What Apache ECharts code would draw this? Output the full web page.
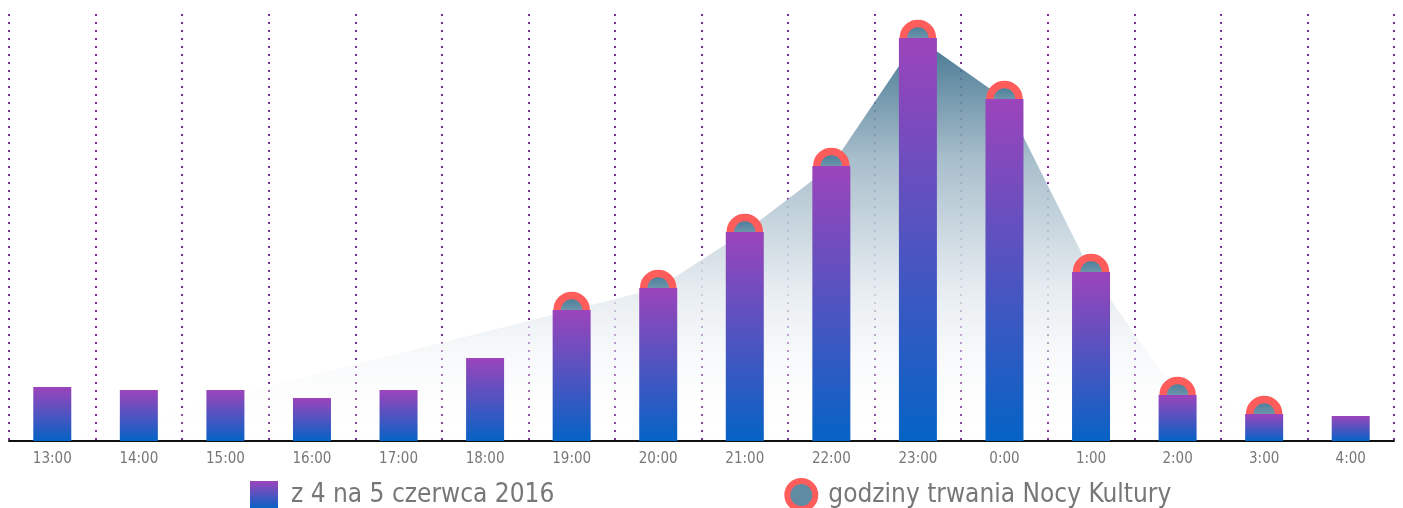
<!DOCTYPE html>
<html>
<head>
<meta charset="utf-8">
<script src="https://cdn.jsdelivr.net/npm/echarts@6/dist/echarts.min.js"></script>
<style>
  html, body { margin: 0; padding: 0; background: #fff; }
  #chart { width: 1403px; height: 508px; }
</style>
</head>
<body>
<div id="chart"></div>
<script>
const hours = ["13:00", "14:00", "15:00", "16:00", "17:00", "18:00", "19:00", "20:00",
  "21:00", "22:00", "23:00", "0:00", "1:00", "2:00", "3:00", "4:00"];

// visitors per hour (relative units)
const visitors = [54, 51, 51, 43, 51, 83, 131, 153, 209, 275, 403, 342, 169, 46, 27, 25];

// hours of the Night of Culture ("-" = outside, joined by the area)
const nightHours = [0, "-", "-", "-", "-", "-", 131, 153, 209, 275, 403, 342, 169, 46, 27, "-"];

const barName = "z 4 na 5 czerwca 2016";
const lineName = "godziny trwania Nocy Kultury";
const font = "DejaVu Sans Condensed";

const chart = echarts.init(document.getElementById("chart"));

chart.setOption({
  animation: false,
  grid: { left: 9, right: 9, top: 14, bottom: 67 },
  legend: {
    bottom: -9,
    left: 245,
    itemGap: 230,
    itemWidth: 28,
    itemHeight: 28,
    textStyle: { color: "#777", fontSize: 26, fontFamily: font, padding: [0, 0, 0, 8] },
    data: [
      { name: barName, icon: "rect" },
      {
        name: lineName,
        icon: "circle",
        itemStyle: { borderColor: "#ff5c5c", borderWidth: 6, color: "#5f8ca3" },
      },
    ],
  },
  xAxis: {
    type: "category",
    data: hours,
    axisLine: { lineStyle: { color: "#111", width: 2 } },
    axisTick: { show: false },
    axisLabel: { color: "#777", fontSize: 15, fontFamily: font, margin: 11 },
    splitLine: {
      show: true,
      interval: 0,
      lineStyle: { color: "#7a2e93", width: 2, type: [2, 6] },
    },
  },
  yAxis: {
    type: "value",
    min: 0,
    max: 427,
    show: false,
    splitLine: { show: false },
  },
  series: [
    {
      name: lineName,
      type: "line",
      z: 2,
      data: nightHours.map((v, i) => (i === 0 ? { value: v, symbol: "none" } : v)),
      connectNulls: true,
      symbol: "circle",
      symbolSize: 29,
      lineStyle: { width: 0 },
      itemStyle: {
        borderColor: "#ff5c5c",
        borderWidth: 7.5,
        color: new echarts.graphic.LinearGradient(0, 0, 0, 1, [
          { offset: 0, color: "#3a7190" },
          { offset: 1, color: "#9fb9c6" },
        ]),
      },
      areaStyle: {
        opacity: 0.88,
        color: new echarts.graphic.LinearGradient(0, 0, 0, 1, [
          { offset: 0, color: "#2b6382" },
          { offset: 0.3, color: "#9cb5c4" },
          { offset: 0.62, color: "#e2e9ee" },
          { offset: 1, color: "rgba(255,255,255,0)" },
        ]),
      },
    },
    {
      name: barName,
      type: "bar",
      z: 3,
      barWidth: 38,
      data: visitors,
      itemStyle: {
        color: new echarts.graphic.LinearGradient(0, 0, 0, 1, [
          { offset: 0, color: "#9c44bb" },
          { offset: 1, color: "#0563c5" },
        ]),
      },
    },
  ],
});
</script>
</body>
</html>
